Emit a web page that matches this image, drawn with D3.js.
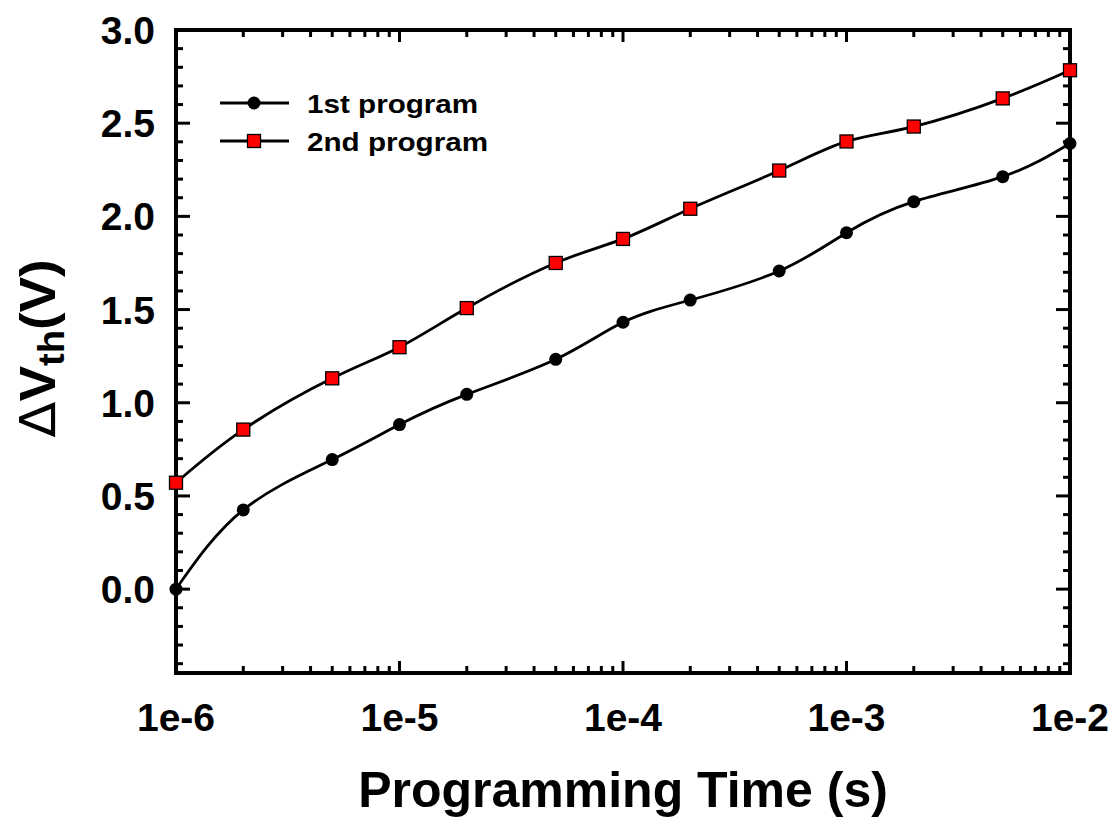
<html>
<head>
<style>
  body { margin: 0; background: #fff; }
  svg { font-family: "Liberation Sans", Arial, sans-serif; font-weight: bold; }
</style>
</head>
<body>
<svg width="1115" height="820"></svg>
<script src="https://d3js.org/d3.v7.min.js"></script>
<script>
// data
let times = [1e-6, 2e-6, 5e-6, 1e-5, 2e-5, 5e-5, 1e-4, 2e-4, 5e-4, 1e-3, 2e-3, 5e-3, 1e-2]
let firstProgram = [0.0, 0.425, 0.695, 0.883, 1.045, 1.233, 1.432, 1.551, 1.707, 1.912, 2.079, 2.213, 2.391]
let secondProgram = [0.571, 0.856, 1.131, 1.298, 1.508, 1.75, 1.879, 2.041, 2.246, 2.402, 2.482, 2.633, 2.784]
let xTickLabels = ["1e-6", "1e-5", "1e-4", "1e-3", "1e-2"]
let yTicks = [0, 0.5, 1.0, 1.5, 2.0, 2.5, 3.0]

let svg = d3.select("svg")
let margin = {top: 30, right: 45, bottom: 147, left: 176}
let width = 1115, height = 820

let x = d3.scaleLog()
  .domain([1e-6, 1e-2])
  .range([margin.left, width - margin.right])

let y = d3.scaleLinear()
  .domain([-0.45, 3.0])
  .range([height - margin.bottom, margin.top])

let decades = xTickLabels.map(d => +d)
let minorX = []
decades.slice(0, -1).forEach(d => { for (let k = 2; k <= 9; k++) minorX.push(d * k) })
let minorY = d3.range(-4, 30).map(i => i / 10).filter(v => Math.abs(v * 2 - Math.round(v * 2)) > 1e-6)

// ticks
let ticks = svg.append("g").attr("stroke", "#000").attr("stroke-width", 3)
let x0 = x.range()[0], x1 = x.range()[1], y0 = y.range()[0], y1 = y.range()[1]
decades.forEach(d => {
  ticks.append("line").attr("x1", x(d)).attr("x2", x(d)).attr("y1", y0).attr("y2", y0 - 12)
  ticks.append("line").attr("x1", x(d)).attr("x2", x(d)).attr("y1", y1).attr("y2", y1 + 12)
})
minorX.forEach(d => {
  ticks.append("line").attr("x1", x(d)).attr("x2", x(d)).attr("y1", y0).attr("y2", y0 - 7)
  ticks.append("line").attr("x1", x(d)).attr("x2", x(d)).attr("y1", y1).attr("y2", y1 + 7)
})
yTicks.forEach(v => {
  ticks.append("line").attr("x1", x0).attr("x2", x0 + 14).attr("y1", y(v)).attr("y2", y(v))
  ticks.append("line").attr("x1", x1).attr("x2", x1 - 14).attr("y1", y(v)).attr("y2", y(v))
})
minorY.forEach(v => {
  ticks.append("line").attr("x1", x0).attr("x2", x0 + 7).attr("y1", y(v)).attr("y2", y(v))
  ticks.append("line").attr("x1", x1).attr("x2", x1 - 7).attr("y1", y(v)).attr("y2", y(v))
})

// frame
svg.append("rect")
  .attr("x", x0).attr("y", y1)
  .attr("width", x1 - x0).attr("height", y0 - y1)
  .attr("fill", "none").attr("stroke", "#000").attr("stroke-width", 4)

// tick labels
svg.append("g").selectAll("text").data(yTicks).join("text")
  .attr("x", x0 - 21).attr("y", d => y(d))
  .attr("text-anchor", "end")
  .attr("dy", "0.36em")
  .style("font-size", "39px")
  .text(d3.format(".1f"))

svg.append("g").selectAll("text").data(decades).join("text")
  .attr("x", d => x(d)).attr("y", y0 + 58)
  .attr("text-anchor", "middle")
  .style("font-size", "39px")
  .text((d, i) => xTickLabels[i])

// axis titles
svg.append("text")
  .attr("x", (x0 + x1) / 2).attr("y", 807)
  .attr("text-anchor", "middle")
  .style("font-size", "50px")
  .text("Programming Time (s)")

let yt = svg.append("text")
  .attr("transform", `translate(55,${(y0 + y1) / 2 - 3}) rotate(-90) scale(1.06,1)`)
  .attr("text-anchor", "middle")
  .style("font-size", "50px")
yt.append("tspan").style("font-family", "DejaVu Sans").style("font-weight", "normal").text("\u0394")
yt.append("tspan").text("V")
yt.append("tspan").attr("dy", 9).style("font-size", "36px").text("th")
yt.append("tspan").attr("dy", -9).text("(V)")

// series
let series = [
  {name: "1st program", values: firstProgram, shape: "circle"},
  {name: "2nd program", values: secondProgram, shape: "square"}
]

let line = d3.line()
  .x(d => x(d[0]))
  .y(d => y(d[1]))
  .curve(d3.curveNatural)

series.forEach(s => {
  let pts = times.map((t, i) => [t, s.values[i]])
  svg.append("path")
    .datum(pts)
    .attr("d", line)
    .attr("fill", "none")
    .attr("stroke", "#000")
    .attr("stroke-width", 2.8)
  drawMarkers(svg, pts.map(p => [x(p[0]), y(p[1])]), s.shape)
})

function drawMarkers(g, pts, shape) {
  if (shape === "circle") {
    g.append("g").selectAll("circle").data(pts).join("circle")
      .attr("cx", d => d[0]).attr("cy", d => d[1]).attr("r", 6.5)
      .attr("fill", "#000")
  } else {
    g.append("g").selectAll("rect").data(pts).join("rect")
      .attr("x", d => d[0] - 6.5).attr("y", d => d[1] - 6.5)
      .attr("width", 13).attr("height", 13)
      .attr("fill", "#ff0000").attr("stroke", "#000").attr("stroke-width", 1.3)
  }
}

// legend
let legend = svg.append("g")
series.forEach((s, i) => {
  let ly = 103 + i * 38
  legend.append("line").attr("x1", 220).attr("x2", 289).attr("y1", ly).attr("y2", ly)
    .attr("stroke", "#000").attr("stroke-width", 2.8)
  drawMarkers(legend, [[254, ly]], s.shape)
  legend.append("text").attr("transform", `translate(307,${ly + 10}) scale(1.14,1)`)
    .style("font-size", "26px").text(s.name)
})
</script>
</body>
</html>
